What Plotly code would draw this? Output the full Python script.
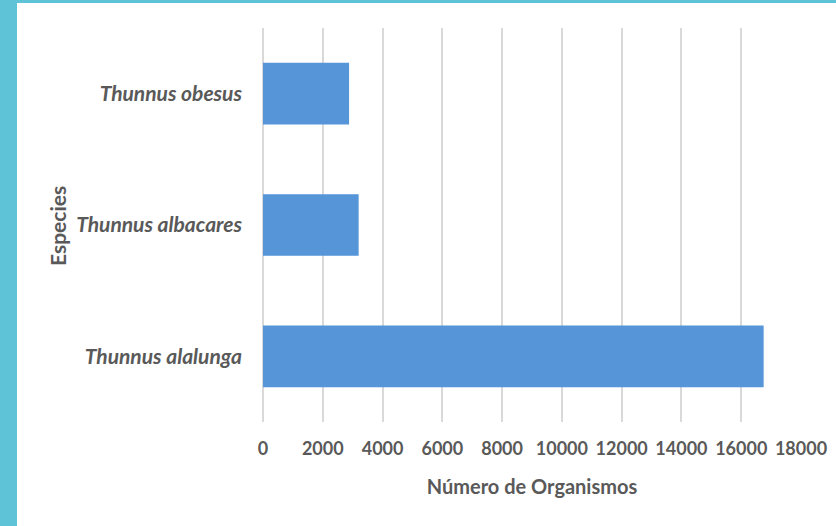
import plotly.graph_objects as go

species = ["Thunnus alalunga", "Thunnus albacares", "Thunnus obesus"]
counts = [16750, 3200, 2880]
x_ticks = [0, 2000, 4000, 6000, 8000, 10000, 12000, 14000, 16000, 18000]

W, H = 836, 526
ML, MR, MT, MB = 263, 35, 28, 104
pw, ph = W - ML - MR, H - MT - MB


def px2paper_x(p):
    return (p - ML) / pw


def px2paper_y(p):
    return 1 - (p - MT) / ph


fig = go.Figure()
fig.add_trace(go.Bar(
    y=species, x=counts, orientation="h",
    marker=dict(color="#5595d8", line=dict(width=0)),
    width=0.47,
))

fig.update_layout(
    width=W, height=H,
    margin=dict(l=ML, r=MR, t=MT, b=MB, autoexpand=False),
    paper_bgcolor="white", plot_bgcolor="white",
    showlegend=False,
    font=dict(family="Lato", color="#595959"),
    xaxis=dict(
        range=[0, 18000], tickvals=x_ticks,
        ticktext=[str(v) for v in x_ticks],
        showgrid=True, gridcolor="#d9d9d9", gridwidth=1.5,
        zeroline=True, zerolinecolor="#d9d9d9", zerolinewidth=1.5,
        tickfont=dict(size=18, family="Lato", color="#595959", weight="bold"),
        ticklabelstandoff=14,
        title=dict(text="<b>Número de Organismos</b>", font=dict(size=20, color="#595959"), standoff=21),
        fixedrange=True, automargin=False,
    ),
    yaxis=dict(
        showgrid=False, zeroline=False,
        tickfont=dict(size=21, family="Lato", color="#595959", style="italic", weight="bold"),
        ticklabelstandoff=20,
        fixedrange=True, automargin=False,
    ),
    annotations=[
        dict(text="<b>Especies</b>", xref="paper", yref="paper",
             x=px2paper_x(58), y=px2paper_y(226), textangle=-90,
             showarrow=False, xanchor="center", yanchor="middle",
             font=dict(size=21, family="Lato", color="#595959")),
    ],
    shapes=[
        dict(type="rect", xref="paper", yref="paper",
             x0=px2paper_x(0), x1=px2paper_x(17), y0=px2paper_y(H), y1=px2paper_y(0),
             fillcolor="#5fc3d8", line=dict(width=0), layer="below"),
        dict(type="rect", xref="paper", yref="paper",
             x0=px2paper_x(0), x1=px2paper_x(W), y0=px2paper_y(3), y1=px2paper_y(0),
             fillcolor="#5fc3d8", line=dict(width=0), layer="below"),
    ],
)

fig.write_html(
    "out.html",
    config={"displayModeBar": False},
    post_script="document.body.style.margin='0';document.body.style.overflow='hidden';",
)
